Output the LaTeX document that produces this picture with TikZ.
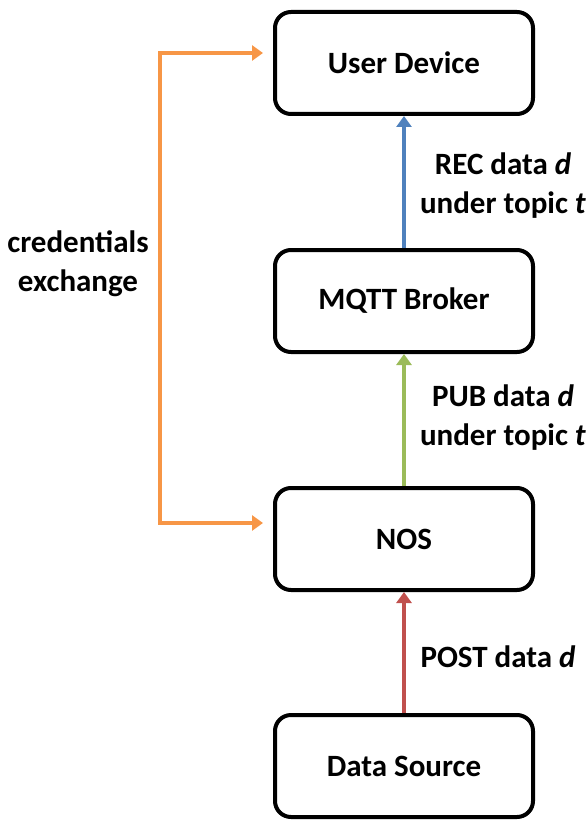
\documentclass[tikz,border=0pt]{standalone}
\usepackage{fontspec}
\setmainfont{Carlito}
\usepackage{xcolor}
\definecolor{flowBlue}{HTML}{4F81BD}
\definecolor{flowGreen}{HTML}{9BBB59}
\definecolor{flowRed}{HTML}{C0504D}
\definecolor{flowOrange}{HTML}{F79646}
\usepackage{tikz}
\usetikzlibrary{arrows.meta, positioning}

\begin{document}
\begin{tikzpicture}[x=1pt, y=-1pt,
    box/.style={draw, line width=4pt, rounded corners=16pt, minimum width=258pt, minimum height=102pt, font=\fontsize{31}{37}\selectfont\bfseries},
    flow/.style={line width=4pt, -{Triangle[length=11pt, width=15pt]}},
    xchg/.style={flowOrange, line width=4pt, {Triangle[length=11pt, width=15pt]}-{Triangle[length=11pt, width=15pt]}, shorten <=10pt, shorten >=10pt},
    lbl/.style={align=center, font=\fontsize{31}{39}\selectfont\bfseries}]
  \useasboundingbox (0,0) rectangle (588,821);
  % the four parties, top to bottom
  \foreach \name/\y/\txt in {user/63/User Device, mqtt/301/MQTT Broker, nos/539/NOS, src/766/Data Source}
    \node[box] (\name) at (404,\y) {\txt};
  % data path
  \draw[flow, flowRed] (src) -- (nos);
  \draw[flow, flowGreen] (nos) -- (mqtt);
  \draw[flow, flowBlue] (mqtt) -- (user);
  \node[lbl] (post) at (498,657) {POST data \textit{d}};
  \node[lbl] (pub) at (503,418) {PUB data \textit{d}\\under topic \textit{t}};
  \node[lbl] (rec) at (503,186) {REC data \textit{d}\\under topic \textit{t}};
  % credentials between NOS and the user
  \coordinate (xtop) at (160,53);
  \coordinate (xbot) at (160,523);
  \draw[xchg] (user.west |- xtop) -- (xtop) -- (xbot) -- (nos.west |- xbot);
  \node[lbl] (cred) at (78,264) {credentials\\exchange};
\end{tikzpicture}
\end{document}
